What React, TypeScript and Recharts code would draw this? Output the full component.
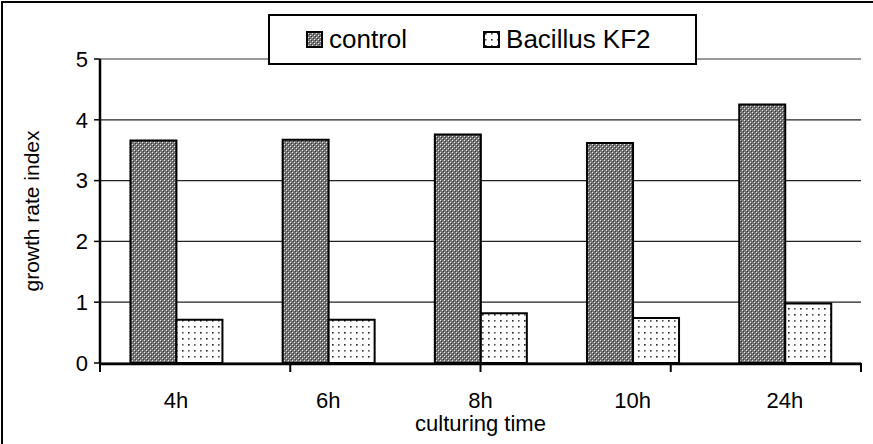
import { BarChart, Bar, XAxis, YAxis, CartesianGrid, Legend, ReferenceLine, Label } from 'recharts'

// culturing time categories and growth rate index per series
const times = ['4h', '6h', '8h', '10h', '24h']
const control = [3.66, 3.67, 3.76, 3.62, 4.25]
const bacillus = [0.71, 0.71, 0.82, 0.74, 0.98]
const yTicks = [0, 1, 2, 3, 4, 5]
const boundaries = [0, 1, 2, 3, 4, 5]

const seriesNames = { control: 'control', bacillus: 'Bacillus KF2' }

const data = times.map((t, i) => ({ time: t, control: control[i], bacillus: bacillus[i] }))

const FONT = '"Liberation Sans", Arial, sans-serif'

function Patterns() {
    return (
        <svg width={0} height={0} style={{ position: 'absolute' }}>
            <defs>
                <pattern id="ctrlPat" width={4} height={4} patternUnits="userSpaceOnUse">
                    <rect width={4} height={4} fill="#777" />
                    <rect x={0} y={0} width={1} height={1} fill="#e8e8e8" />
                    <rect x={2} y={2} width={1} height={1} fill="#e8e8e8" />
                    <rect x={1} y={1} width={1} height={1} fill="#3a3a3a" />
                    <rect x={3} y={3} width={1} height={1} fill="#3a3a3a" />
                </pattern>
                <pattern id="bacPat" width={12} height={12} patternUnits="userSpaceOnUse">
                    <rect width={12} height={12} fill="#fff" />
                    <rect x={2} y={2} width={1.6} height={1.6} fill="#222" />
                    <rect x={8} y={8} width={1.6} height={1.6} fill="#222" />
                    <rect x={8} y={2} width={1.6} height={1.6} fill="#555" />
                    <rect x={2} y={8} width={1.6} height={1.6} fill="#555" />
                </pattern>
            </defs>
        </svg>
    )
}

function LegendBox() {
    const item = (fill: string, label: string, ml: number) => (
        <div style={{ display: 'flex', alignItems: 'center', marginLeft: ml }}>
            <svg width={17} height={17} style={{ marginRight: 6 }}>
                <rect x={1} y={1} width={15} height={15} fill={fill} stroke="#000" strokeWidth={2} />
            </svg>
            <span>{label}</span>
        </div>
    )
    return (
        <div
            style={{
                boxSizing: 'border-box',
                width: 429,
                height: 51,
                border: '2px solid #000',
                background: '#fff',
                display: 'flex',
                alignItems: 'center',
                fontFamily: FONT,
                fontSize: 26,
                color: '#000',
            }}
        >
            {item('url(#ctrlPat)', seriesNames.control, 36)}
            {item('url(#bacPat)', seriesNames.bacillus, 76)}
        </div>
    )
}

export default function App() {
    return (
        <div style={{ position: 'absolute', left: 0, top: 0, width: 873, height: 444, background: '#fff' }}>
            <Patterns />
            <div
                style={{
                    position: 'absolute',
                    left: 1,
                    top: 1,
                    width: 900,
                    height: 460,
                    borderLeft: '2px solid #000',
                    borderTop: '2px solid #000',
                }}
            />
            <BarChart
                width={873}
                height={444}
                data={data}
                margin={{ top: 59, right: 12, left: 0, bottom: 1 }}
                barCategoryGap="20%"
                barGap={0}
                style={{ fontFamily: FONT }}
            >
                <CartesianGrid xAxisId="time" vertical={false} stroke="#222" strokeWidth={1.2} />
                {/* unlabeled numeric axis: draws the tick marks between categories */}
                <XAxis
                    xAxisId="edge"
                    type="number"
                    domain={[0, 5]}
                    ticks={boundaries}
                    tick={{ fontSize: 0 }}
                    tickFormatter={() => ''}
                    tickSize={9}
                    axisLine={false}
                    tickLine={{ stroke: '#000', strokeWidth: 2 }}
                    height={1}
                    allowDataOverflow
                />
                <XAxis
                    xAxisId="time"
                    dataKey="time"
                    height={79}
                    tickLine={false}
                    tickSize={0}
                    tickMargin={28}
                    axisLine={{ stroke: '#000', strokeWidth: 2.5 }}
                    tick={{ fill: '#000', fontSize: 22 }}
                >
                    <Label value="culturing time" position="insideBottom" offset={12} fill="#000" fontSize={22} />
                </XAxis>
                <YAxis
                    width={100}
                    domain={[0, 5]}
                    ticks={yTicks}
                    tickSize={6}
                    tickMargin={6}
                    axisLine={{ stroke: '#000', strokeWidth: 2.5 }}
                    tickLine={{ stroke: '#000', strokeWidth: 1.5 }}
                    tick={{ fill: '#000', fontSize: 22 }}
                >
                    <Label
                        content={() => (
                            <text
                                x={31}
                                y={211}
                                transform="rotate(-90 31 211)"
                                textAnchor="middle"
                                dominantBaseline="central"
                                fontSize={21}
                                fill="#000"
                            >
                                growth rate index
                            </text>
                        )}
                    />
                </YAxis>
                <ReferenceLine xAxisId="time" y={5} stroke="#999" strokeWidth={2} />
                <ReferenceLine x={5} xAxisId="edge" stroke="#999" strokeWidth={2} />
                <Legend
                    layout="horizontal"
                    verticalAlign="middle"
                    align="center"
                    wrapperStyle={{ top: 14, left: 268, width: 429, height: 51 }}
                    content={() => <LegendBox />}
                />
                <Bar xAxisId="time" dataKey="control" name={seriesNames.control} fill="url(#ctrlPat)" stroke="#000" strokeWidth={2} isAnimationActive={false} />
                <Bar xAxisId="time" dataKey="bacillus" name={seriesNames.bacillus} fill="url(#bacPat)" stroke="#000" strokeWidth={2} isAnimationActive={false} />
            </BarChart>
        </div>
    )
}
